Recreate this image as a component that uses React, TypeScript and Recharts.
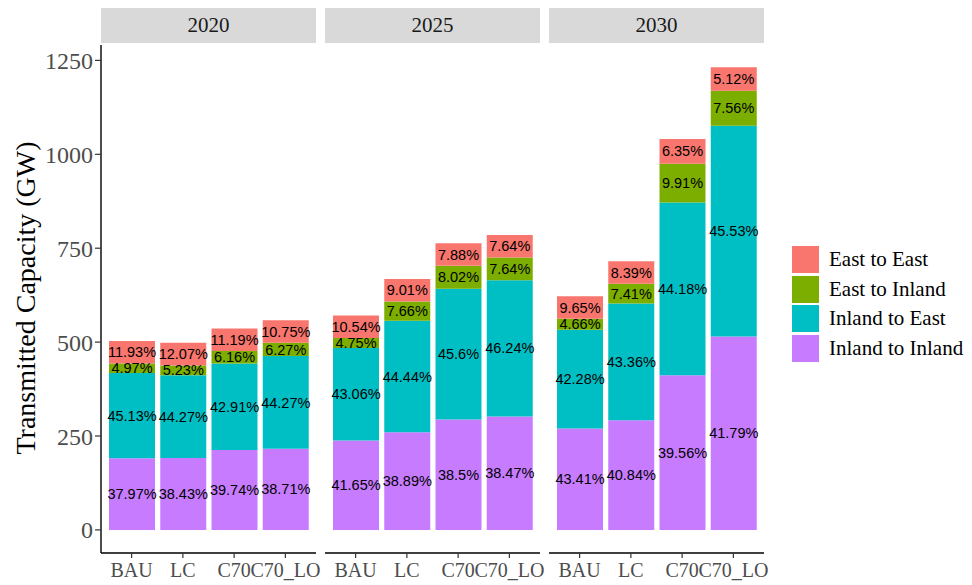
import { BarChart, Bar, XAxis, YAxis, LabelList } from 'recharts'

const years = ['2020', '2025', '2030']
const scenarios = ['BAU', 'LC', 'C70', 'C70_LO']
const yTicks = [0, 250, 500, 750, 1000, 1250]

// GW per scenario, one inner list per year
const inlandToInland = [
  [191, 191.5, 213, 216],
  [238, 260, 294, 302],
  [270, 292, 412, 515],
]
const inlandToEast = [
  [227, 220.5, 230, 247],
  [246, 297, 348, 363],
  [263, 310.5, 460, 561],
]
const eastToInland = [
  [25, 26, 33, 35],
  [27, 51, 61, 60],
  [29, 53, 103, 93],
]
const eastToEast = [
  [60, 60, 60, 60],
  [60, 60, 60, 60],
  [60, 60, 66, 63],
]

// share labels (%)
const inlandToInlandPct = [
  [37.97, 38.43, 39.74, 38.71],
  [41.65, 38.89, 38.5, 38.47],
  [43.41, 40.84, 39.56, 41.79],
]
const inlandToEastPct = [
  [45.13, 44.27, 42.91, 44.27],
  [43.06, 44.44, 45.6, 46.24],
  [42.28, 43.36, 44.18, 45.53],
]
const eastToInlandPct = [
  [4.97, 5.23, 6.16, 6.27],
  [4.75, 7.66, 8.02, 7.64],
  [4.66, 7.41, 9.91, 7.56],
]
const eastToEastPct = [
  [11.93, 12.07, 11.19, 10.75],
  [10.54, 9.01, 7.88, 7.64],
  [9.65, 8.39, 6.35, 5.12],
]

const series = [
  { key: 'ii', name: 'Inland to Inland', color: '#C77CFF' },
  { key: 'ie', name: 'Inland to East', color: '#00BFC4' },
  { key: 'ei', name: 'East to Inland', color: '#7CAE00' },
  { key: 'ee', name: 'East to East', color: '#F8766D' },
]

const SERIF = '"Liberation Serif", "Times New Roman", serif'
const SANS = '"Liberation Sans", Arial, sans-serif'
const DOMAIN: [number, number] = [-61.5, 1291]

const panelLeft = [101, 325, 549]
const PANEL_W = 215

function rowsFor(i: number) {
  return scenarios.map((s, j) => ({
    scenario: s,
    ii: inlandToInland[i][j],
    ie: inlandToEast[i][j],
    ei: eastToInland[i][j],
    ee: eastToEast[i][j],
    iiPct: inlandToInlandPct[i][j],
    iePct: inlandToEastPct[i][j],
    eiPct: eastToInlandPct[i][j],
    eePct: eastToEastPct[i][j],
  }))
}

function Panel({ i }: { i: number }) {
  const first = i === 0
  const left = first ? 0 : panelLeft[i]
  const width = first ? panelLeft[0] + PANEL_W : PANEL_W
  return (
    <div style={{ position: 'absolute', left, top: 0 }}>
      <BarChart
        width={width}
        height={585}
        data={rowsFor(i)}
        margin={{ top: 45, right: 0, bottom: 0, left: 0 }}
      >
        <XAxis
          dataKey="scenario"
          height={32}
          padding={{ left: 5, right: 5 }}
          axisLine={{ stroke: '#000', strokeWidth: 1.4 }}
          tickLine={{ stroke: '#333', strokeWidth: 1.2 }}
          tickSize={5}
          tickMargin={5}
          interval={0}
          tick={{ fill: '#4D4D4D', fontSize: 20, fontFamily: SERIF }}
        />
        <YAxis
          hide={!first}
          width={101}
          domain={DOMAIN}
          allowDataOverflow
          ticks={yTicks}
          axisLine={{ stroke: '#000', strokeWidth: 1.4 }}
          tickLine={{ stroke: '#333', strokeWidth: 1.2 }}
          tickSize={6}
          tickMargin={2}
          tick={{ fill: '#4D4D4D', fontSize: 24, fontFamily: SERIF }}
          label={{
            content: () => (
              <text
                x={25}
                y={298}
                transform="rotate(-90 25 298)"
                textAnchor="middle"
                dominantBaseline="central"
                fontSize={28}
                fontFamily={SERIF}
                fill="#000"
              >
                Transmitted Capacity (GW)
              </text>
            ),
          }}
        />
        {series.map((s) => (
          <Bar
            key={s.key}
            dataKey={s.key}
            stackId="a"
            fill={s.color}
            barSize={46}
            isAnimationActive={false}
          >
            <LabelList
              dataKey={s.key + 'Pct'}
              position="center"
              formatter={(v: any) => `${v}%`}
              style={{ fill: '#000', fontSize: 14.5, fontFamily: SANS }}
            />
          </Bar>
        ))}
      </BarChart>
    </div>
  )
}

export default function App() {
  const legendItems = [...series].reverse()
  return (
    <div style={{ position: 'absolute', left: 0, top: 0, width: 972, height: 585, background: '#fff' }}>
      <style>{'.recharts-wrapper, .recharts-surface { overflow: visible !important; }'}</style>
      {years.map((y, i) => (
        <div
          key={y}
          style={{
            position: 'absolute',
            left: panelLeft[i],
            top: 8,
            width: PANEL_W,
            height: 35,
            background: '#D9D9D9',
            fontFamily: SERIF,
            fontSize: 21,
            lineHeight: '35px',
            textAlign: 'center',
            color: '#1A1A1A',
          }}
        >
          {y}
        </div>
      ))}
      {years.map((y, i) => (
        <Panel key={y} i={i} />
      ))}
      {legendItems.map((s, k) => (
        <div key={s.key} style={{ position: 'absolute', left: 792, top: 246 + k * 29.5, display: 'flex', alignItems: 'center' }}>
          <div style={{ width: 27, height: 27, background: s.color }} />
          <span style={{ marginLeft: 10, fontFamily: SERIF, fontSize: 21, color: '#000', whiteSpace: 'nowrap' }}>{s.name}</span>
        </div>
      ))}
    </div>
  )
}
